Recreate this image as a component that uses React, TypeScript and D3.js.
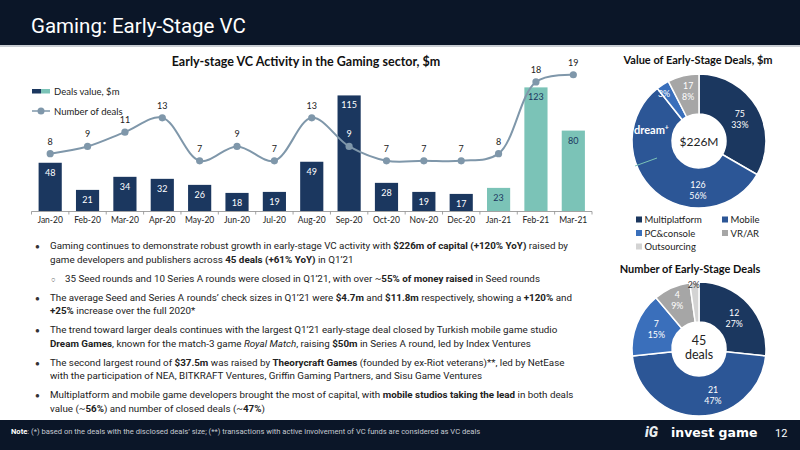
import React from 'react';
import * as d3 from 'd3';

// monthly early-stage VC activity
const months = ['Jan-20', 'Feb-20', 'Mar-20', 'Apr-20', 'May-20', 'Jun-20', 'Jul-20', 'Aug-20', 'Sep-20', 'Oct-20', 'Nov-20', 'Dec-20', 'Jan-21', 'Feb-21', 'Mar-21'];
const dealValues = [48, 21, 34, 32, 26, 18, 19, 49, 115, 28, 19, 17, 23, 123, 80];
const dealCounts = [8, 9, 11, 13, 7, 9, 7, 13, 9, 7, 7, 7, 8, 18, 19];

// breakdown by platform
const sectors = ['Multiplatform', 'Mobile', 'PC&console', 'VR/AR', 'Outsourcing'];
const valueBySector = [75, 126, 7, 17, 0];
const valueShares = [33, 56, 3, 8, 0];
const countBySector = [12, 21, 7, 4, 1];
const countShares = [27, 47, 15, 9, 2];
const valueTotalLabel = '$226M';
const countTotalLabel = '45';

const NAVY = '#1b375f';
const TEAL = '#7bc3b7';
const LINE = '#7f97aa';
const DARK = '#0b1628';
const sectorColors = ['#1b375f', '#2c5696', '#3a6fbb', '#a6a6a6', '#d3d3d3'];

const chartFont = 'Lato, "Open Sans", sans-serif';
const slideFont = 'Roboto, "Open Sans", sans-serif';

function BarLineChart() {
  const x = d3.scaleBand().domain(months).range([31.5, 592]).paddingInner(0.38).paddingOuter(0.19);
  const y = d3.scaleLinear().domain([0, 130]).range([211, 211 - 130 * 1.005]);
  const y2 = d3.scaleLinear().domain([0, 20]).range([211, 211 - 20 * 7.17]);
  const cx = (m: string) => (x(m) as number) + x.bandwidth() / 2;
  const gap = (x.step() * x.paddingInner()) / 2;

  const line = d3.line<number>()
    .x((_, i) => cx(months[i]))
    .y(d => y2(d))
    .curve(d3.curveCatmullRom.alpha(0.5));

  return (
    <g>
      <text x={306} y={66} textAnchor="middle" fontFamily={chartFont} fontWeight={700} fontSize={12.5} fill="#111">
        Early-stage VC Activity in the Gaming sector, $m
      </text>

      {/* legend */}
      <rect x={32} y={89} width={9} height={4.5} fill={NAVY} />
      <rect x={41} y={89} width={9} height={4.5} fill={TEAL} />
      <text x={54} y={94.5} fontFamily={chartFont} fontSize={9.5} fill="#222">Deals value, $m</text>
      <line x1={32} x2={50} y1={111} y2={111} stroke={LINE} strokeWidth={1.5} />
      <circle cx={41} cy={111} r={3.5} fill={LINE} />
      <text x={54} y={114.5} fontFamily={chartFont} fontSize={9.5} fill="#222">Number of deals</text>

      {months.map((m, i) => {
        const is21 = m.endsWith('-21');
        return (
          <g key={m}>
            <rect x={x(m)} y={y(dealValues[i])} width={x.bandwidth()} height={y(0) - y(dealValues[i])} fill={is21 ? TEAL : NAVY} />
            <text x={cx(m)} y={y(dealValues[i]) + 13} textAnchor="middle" fontFamily={chartFont} fontSize={9} fill={is21 ? NAVY : '#fff'}>
              {dealValues[i]}
            </text>
          </g>
        );
      })}

      {/* axis */}
      <line x1={x.range()[0]} x2={x.range()[1]} y1={211.5} y2={211.5} stroke="#8c8c8c" strokeWidth={0.8} />
      {months.map(m => (
        <line key={'t' + m} x1={(x(m) as number) - gap} x2={(x(m) as number) - gap} y1={211.5} y2={214.5} stroke="#8c8c8c" strokeWidth={0.8} />
      ))}
      <line x1={x.range()[1]} x2={x.range()[1]} y1={211.5} y2={214.5} stroke="#8c8c8c" strokeWidth={0.8} />
      {months.map(m => (
        <text key={'l' + m} x={cx(m)} y={223} textAnchor="middle" fontFamily={chartFont} fontSize={8.5} fill="#222">{m}</text>
      ))}

      <path d={line(dealCounts) as string} fill="none" stroke={LINE} strokeWidth={2} />
      {dealCounts.map((v, i) => {
        const ly = y2(v) - 9;
        const inBar = ly - 8 > y(dealValues[i]) && !months[i].endsWith('-21');
        return (
          <g key={'p' + i}>
            <circle cx={cx(months[i])} cy={y2(v)} r={3.6} fill={LINE} />
            <text x={cx(months[i])} y={ly} textAnchor="middle" fontFamily={chartFont} fontSize={9} fill={inBar ? '#fff' : '#222'}>{v}</text>
          </g>
        );
      })}
    </g>
  );
}

function Donut({ cx, cy, values, shares, shifts, darkLabel, showValue }: any) {
  const pie = d3.pie<number>().sort(null).value(d => d);
  const arc = d3.arc<d3.PieArcDatum<number>>().innerRadius(27).outerRadius(67);
  const labelArc = d3.arc<d3.PieArcDatum<number>>().innerRadius(46).outerRadius(46);
  const arcs = pie(values);
  return (
    <g transform={`translate(${cx},${cy})`}>
      {arcs.map((a, i) => a.value > 0 && (
        <path key={i} d={arc(a) as string} fill={sectorColors[i]} stroke="#fff" strokeWidth={1.5} />
      ))}
      {arcs.map((a, i) => {
        if (a.value <= 0) return null;
        const [lx, ly] = labelArc.centroid(a);
        const [dx, dy] = shifts[i];
        const small = shares[i] < 5 || !showValue[i];
        const fill = darkLabel[i] ? '#333' : '#fff';
        return (
          <text key={'l' + i} x={lx + dx} y={ly + dy} textAnchor="middle" fontFamily={chartFont} fontSize={8.8} fill={fill}>
            {small ? (
              <tspan x={lx + dx} dy={3}>{shares[i]}%</tspan>
            ) : (
              <>
                <tspan x={lx + dx} dy={-2}>{a.value}</tspan>
                <tspan x={lx + dx} dy={11}>{shares[i]}%</tspan>
              </>
            )}
          </text>
        );
      })}
    </g>
  );
}

function Bullets() {
  const b = (t: string) => <tspan fontWeight={700}>{t}</tspan>;
  const lines: { y: number; bullet?: string; x: number; parts: React.ReactNode }[] = [
    { y: 249, bullet: '●', x: 50, parts: <>Gaming continues to demonstrate robust growth in early-stage VC activity with {b('$226m of capital (+120% YoY)')} raised by</> },
    { y: 262.5, x: 50, parts: <>game developers and publishers across {b('45 deals (+61% YoY)')} in Q1’21</> },
    { y: 281.5, bullet: '○', x: 65, parts: <>35 Seed rounds and 10 Series A rounds were closed in Q1’21, with over ~{b('55% of money raised')} in Seed rounds</> },
    { y: 300.5, bullet: '●', x: 50, parts: <>The average Seed and Series A rounds’ check sizes in Q1’21 were {b('$4.7m')} and {b('$11.8m')} respectively, showing a {b('+120%')} and</> },
    { y: 314, x: 50, parts: <>{b('+25%')} increase over the full 2020*</> },
    { y: 333, bullet: '●', x: 50, parts: <>The trend toward larger deals continues with the largest Q1’21 early-stage deal closed by Turkish mobile game studio</> },
    { y: 346.5, x: 50, parts: <>{b('Dream Games')}, known for the match-3 game <tspan fontStyle="italic">Royal Match</tspan>, raising {b('$50m')} in Series A round, led by Index Ventures</> },
    { y: 365.5, bullet: '●', x: 50, parts: <>The second largest round of {b('$37.5m')} was raised by {b('Theorycraft Games')} (founded by ex-Riot veterans)**, led by NetEase</> },
    { y: 379, x: 50, parts: <>with the participation of NEA, BITKRAFT Ventures, Griffin Gaming Partners, and Sisu Game Ventures</> },
    { y: 398, bullet: '●', x: 50, parts: <>Multiplatform and mobile game developers brought the most of capital, with {b('mobile studios taking the lead')} in both deals</> },
    { y: 411.5, x: 50, parts: <>value (~{b('56%')}) and number of closed deals (~{b('47%')})</> },
  ];
  return (
    <g fontFamily={slideFont} fontSize={9.8} fill="#222">
      {lines.map((l, i) => (
        <g key={i}>
          {l.bullet && (
            <text x={l.bullet === '●' ? 35 : 51} y={l.y} fontSize={l.bullet === '●' ? 8 : 7.5} fill="#333">{l.bullet}</text>
          )}
          <text x={l.x} y={l.y}>{l.parts}</text>
        </g>
      ))}
    </g>
  );
}

export default function App() {
  const legendRows = [[0, 1], [2, 3], [4]];
  return (
    <svg width={800} height={450} style={{ position: 'absolute', left: 0, top: 0, background: '#fff' }}>
      <rect x={0} y={0} width={800} height={45} fill={DARK} />
      <rect x={0} y={45} width={800} height={2} fill="#c9cdd3" />
      <text x={31} y={33} fontFamily={slideFont} fontSize={20.5} fill="#fff">Gaming: Early-Stage VC</text>

      <BarLineChart />

      {/* value donut */}
      <text x={698} y={64} textAnchor="middle" fontFamily={chartFont} fontWeight={700} fontSize={11} fill="#111">Value of Early-Stage Deals, $m</text>
      <Donut cx={699} cy={141} values={valueBySector} shares={valueShares}
        shifts={[[1, 1], [29, 14], [-10, -8], [0, -5], [0, 0]]}
        darkLabel={[false, false, false, false, false]}
        showValue={[true, true, false, true, true]} />
      <line x1={635} y1={166} x2={657} y2={158} stroke={TEAL} strokeWidth={1} />
      <text x={634} y={133.5} fontFamily={chartFont} fontWeight={700} fontSize={11} fill="#fff">dream<tspan fontSize={7} dy={-4}>+</tspan></text>
      <text x={699} y={146} textAnchor="middle" fontFamily={chartFont} fontSize={12} fill="#222">{valueTotalLabel}</text>

      {legendRows.map((row, r) => row.map((s, c) => (
        <g key={s} transform={`translate(${636 + c * 86},${220 + r * 13.5})`}>
          <rect x={0} y={-3.5} width={6} height={6} fill={sectorColors[s]} />
          <text x={8.5} y={3} fontFamily={chartFont} fontSize={9.5} fill="#222">{sectors[s]}</text>
        </g>
      )))}

      {/* count donut */}
      <text x={690} y={273} textAnchor="middle" fontFamily={chartFont} fontWeight={700} fontSize={11} fill="#111">Number of Early-Stage Deals</text>
      <Donut cx={699} cy={349} values={countBySector} shares={countShares}
        shifts={[[1, 0], [14, 0], [0, -3], [-3, -7], [-2, -18]]}
        darkLabel={[false, false, false, false, true]}
        showValue={[true, true, true, true, false]} />
      <text x={699} y={345} textAnchor="middle" fontFamily={chartFont} fontSize={12.5} fill="#222">{countTotalLabel}</text>
      <text x={699} y={359} textAnchor="middle" fontFamily={chartFont} fontSize={12.5} fill="#222">deals</text>

      <Bullets />

      {/* footer */}
      <rect x={0} y={420} width={800} height={30} fill={DARK} />
      <text x={11} y={434} fontFamily={slideFont} fontSize={7.6} fill="#c5cad2">
        <tspan fontWeight={700} fill="#fff">Note</tspan>: (*) based on the deals with the disclosed deals’ size; (**) transactions with active involvement of VC funds are considered as VC deals
      </text>
      <text x={645} y={437} fontFamily={slideFont} fontStyle="italic" fontWeight={900} fontSize={14} fill="#e8ecef">iG</text>
      <text x={671} y={437} fontFamily='"DejaVu Sans", sans-serif' fontWeight={700} fontSize={12.5} fill="#fff">invest game</text>
      <text x={775} y={437} fontFamily={slideFont} fontSize={11} fill="#fff">12</text>
    </svg>
  );
}
